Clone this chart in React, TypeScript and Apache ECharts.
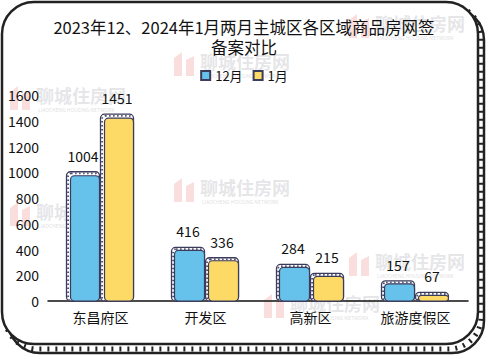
import React, { useEffect, useRef } from "react";
import * as echarts from "echarts";

const categories = ["东昌府区", "开发区", "高新区", "旅游度假区"];
const dec2023 = [1004, 416, 284, 157];
const jan2024 = [1451, 336, 215, 67];
const seriesNames = ["12月", "1月"];
const seriesColors = ["#66c2ea", "#fdd966"];
const yTicks = { min: 0, max: 1600, interval: 200 };
const titleText = "2023年12、2024年1月两月主城区各区域商品房网签\n备案对比";

const FONT = "'Noto Sans CJK SC', 'Noto Sans', sans-serif";

export default function App() {
  const ref = useRef<HTMLDivElement>(null);
  useEffect(() => {
    if (!ref.current) return;
    const chart = echarts.init(ref.current, null, { renderer: "svg" });

    const makeRender = (sIdx: number) => (params: any, api: any) => {
      const cat = api.value(0);
      const v = api.value(1);
      const base = api.coord([cat, 0]);
      const top = api.coord([cat, v]);
      const bw = 33;
      const fx = sIdx === 0 ? base[0] - bw - 1 : base[0];
      const h = base[1] - top[1];
      const inset = h > 100 ? 4 : 3;
      return {
        type: "group",
        children: [
          {
            type: "rect",
            shape: { x: fx, y: top[1], width: bw, height: h, r: 4 },
            style: { fill: "#ffffff", stroke: "#3b3b5c", lineWidth: 1.3 },
          },
          {
            type: "rect",
            shape: { x: fx + 1.6, y: top[1] + 1.6, width: bw - 3.2, height: Math.max(h - 1.6, 0), r: 3 },
            style: { fill: "none", stroke: "#4a4a70", lineWidth: 1.8, lineDash: [1.5, 2.5] },
          },
          {
            type: "rect",
            shape: { x: fx + inset, y: top[1] + inset, width: bw - inset, height: Math.max(h - inset, 0), r: 4 },
            style: { fill: seriesColors[sIdx], stroke: "#3b3b5c", lineWidth: 1.2 },
          },
          {
            type: "text",
            x: fx + bw / 2,
            y: top[1] - 9,
            style: {
              text: String(v),
              fontSize: 14,
              fill: "#111",
              fontFamily: FONT,
              align: "center",
              verticalAlign: "bottom",
            },
          },
        ],
      };
    };

    const watermark = (x: number, y: number) => ({
      type: "group",
      x,
      y,
      silent: true,
      z: -5,
      children: [
        { type: "polygon", shape: { points: [[-26, 26], [-26, 8], [-18, 2], [-18, 26], [-14, 26], [-14, 10], [-6, 6], [-6, 26]] }, style: { fill: "rgba(240,160,160,0.35)" } },
        { type: "text", x: 0, y: 2, style: { text: "聊城住房网", fontSize: 18, fontWeight: "bold", fill: "rgba(190,190,195,0.4)", fontFamily: FONT } },
        { type: "text", x: 2, y: 23, style: { text: "LIAOCHENG HOUSING NETWORK", fontSize: 5, fill: "rgba(190,190,195,0.5)", fontFamily: FONT } },
      ],
    });

    chart.setOption({
      animation: false,
      backgroundColor: "#fff",
      graphic: [
        { type: "rect", z: -10, shape: { x: 8, y: 8, width: 476, height: 345, r: 32 }, style: { fill: "#fff", stroke: "#222", lineWidth: 2.5 } },
        { type: "rect", z: -9, shape: { x: 5, y: 5, width: 476, height: 344, r: 32 }, style: { fill: "none", stroke: "#222", lineWidth: 5, lineDash: [2, 6] } },
        { type: "rect", z: -8, shape: { x: 2, y: 2, width: 476, height: 342, r: 32 }, style: { fill: "#fff", stroke: "#222", lineWidth: 2.5 } },
        watermark(375, 12),
        watermark(200, 50),
        watermark(36, 84),
        watermark(36, 200),
        watermark(200, 176),
        watermark(290, 292),
        watermark(375, 250),
      ],
      title: {
        text: titleText,
        left: "center",
        top: 12,
        textStyle: { fontSize: 16.5, fontWeight: "normal", color: "#111", fontFamily: FONT, lineHeight: 20 },
      },
      legend: {
        data: seriesNames,
        top: 64,
        left: "center",
        icon: "rect",
        itemWidth: 9,
        itemHeight: 9,
        itemGap: 10,
        textStyle: { fontSize: 13, color: "#111", fontFamily: FONT },
      },
      grid: { left: 48, right: 20, top: 95, bottom: 58 },
      xAxis: {
        type: "category",
        data: categories,
        axisLine: { lineStyle: { color: "#111", width: 1.5 } },
        axisTick: { show: false },
        axisLabel: { fontSize: 14, color: "#111", fontFamily: FONT, margin: 9 },
      },
      yAxis: {
        type: "value",
        min: yTicks.min,
        max: yTicks.max,
        interval: yTicks.interval,
        axisLine: { show: false },
        axisTick: { show: false },
        splitLine: { show: false },
        axisLabel: { fontSize: 14, color: "#111", fontFamily: FONT, margin: 9, formatter: (v: number) => String(v) },
      },
      series: [
        {
          name: seriesNames[0],
          type: "custom",
          renderItem: makeRender(0),
          encode: { x: 0, y: 1 },
          itemStyle: { color: seriesColors[0], borderColor: "#3b3b5c", borderWidth: 1 },
          data: dec2023.map((v, i) => [i, v]),
        },
        {
          name: seriesNames[1],
          type: "custom",
          renderItem: makeRender(1),
          encode: { x: 0, y: 1 },
          itemStyle: { color: seriesColors[1], borderColor: "#3b3b5c", borderWidth: 1 },
          data: jan2024.map((v, i) => [i, v]),
        },
      ],
    });
    return () => chart.dispose();
  }, []);
  return <div ref={ref} style={{ width: 488, height: 359, position: "absolute", left: 0, top: 0 }} />;
}
